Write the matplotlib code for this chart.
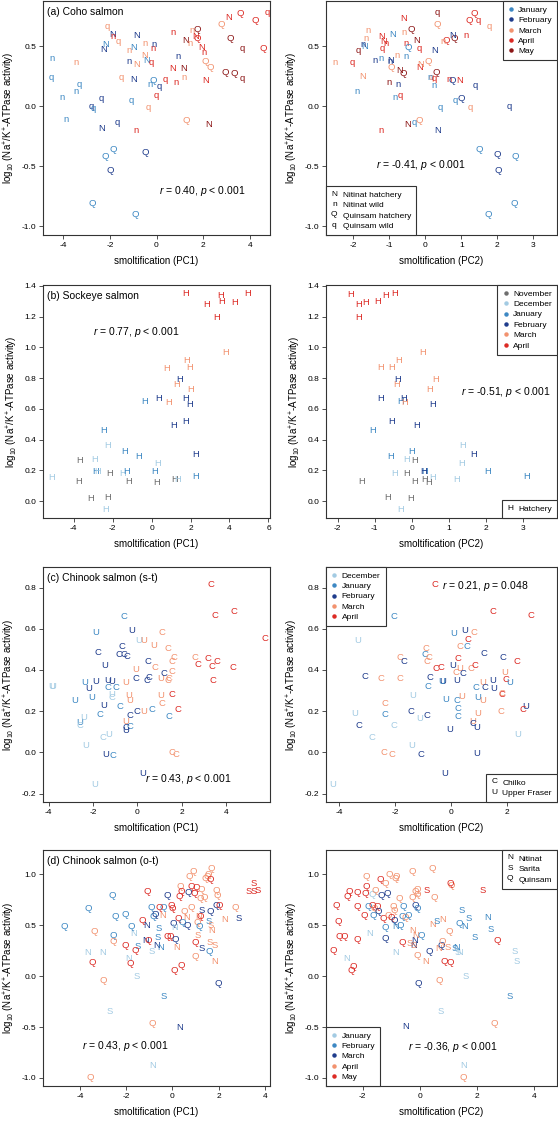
import matplotlib
matplotlib.use("Agg")
from matplotlib import pyplot as plt
from matplotlib.lines import Line2D
from matplotlib.text import Text
from matplotlib.legend_handler import HandlerBase
from matplotlib.ticker import FormatStrFormatter, MultipleLocator

plt.rcParams['font.family'] = ['Liberation Sans', 'DejaVu Sans']
plt.rcParams['axes.unicode_minus'] = False
plt.rcParams['mathtext.fontset'] = 'custom'
plt.rcParams['mathtext.rm'] = 'Liberation Sans'
plt.rcParams['mathtext.it'] = 'Liberation Sans:italic'

# colours
GREY = '#6e6e6e'
LIGHT = '#a3cbe3'
MID = '#3d88c3'
DARK = '#1f3c8c'
SALMON = '#f2926f'
RED = '#dc2a24'
DARKRED = '#8c1616'

month_name = {'o': 'November', 'd': 'December', 'j': 'January', 'f': 'February',
              'm': 'March', 'a': 'April', 'y': 'May'}

# ---------------- (a) Coho salmon ----------------
a1_site = "nqnqnnnqqq NqNNNnqqqQ QQQQQnnNNN nqNNNqnnQn qqqnqnNnnN nQNnnNQQNn QQNNQNQQQq qQQQq".replace(" ", "")
a1_month = "jjmjjjjfjf fmfjfammfj jfjjfmfmjf mjfmjaafjj fmaaaaaafy mmymmaayaa mmaymayyyy yaaaa".replace(" ", "")
a1_x = [-4.49, -4.52, -3.44, -3.30, -3.44, -4.06, -3.87, -2.80, -2.70, -2.37,
        -2.37, -2.13, -2.27, -2.19, -1.89, -1.86, -1.66, -1.53, -1.67, -1.87,
        -2.20, -1.99, -2.77, -0.90, -0.49, -1.20, -1.20, -0.87, -0.99, -0.87,
        -0.51, -1.09, -0.97, -0.49, -0.41, -0.23, -0.16, -0.10, -0.13, -0.27,
        0.13, -0.34, 0.01, -0.89, 0.37, 0.69, 0.70, 0.84, 0.94, 1.16,
        1.19, 1.26, 1.26, 1.51, 1.45, 1.66, 1.73, 1.76, 1.94, 2.04,
        2.09, 2.30, 2.11, 2.24, 2.76, 3.10, 3.16, 2.94, 3.34, 3.69,
        3.70, 3.59, 4.23, 4.60, 4.77]
a1_y = [0.40, 0.24, 0.36, 0.18, 0.12, 0.07, -0.11, 0.00, -0.02, 0.06,
        -0.19, 0.66, 0.47, 0.51, 0.60, 0.58, 0.54, 0.24, -0.14, -0.36,
        -0.42, -0.54, -0.81, -0.90, -0.39, 0.46, 0.37, 0.35, 0.49, 0.59,
        0.52, 0.05, 0.22, 0.42, 0.38, 0.36, 0.48, 0.51, 0.21, 0.18,
        0.16, -0.01, 0.09, -0.20, 0.22, 0.61, 0.31, 0.20, 0.41, 0.31,
        0.24, -0.12, 0.55, 0.63, 0.52, 0.58, 0.56, 0.64, 0.49, 0.45,
        0.37, 0.32, 0.21, -0.15, 0.68, 0.74, 0.56, 0.28, 0.27, 0.48,
        0.23, 0.77, 0.71, 0.48, 0.78]

a2_site = "nqnNnnNnqn nNNqnNNnQn nqnNnQnQnN QnNqNNQNqQ nqnnqNQqQQ nQNqNnNQqQ nQQqqqqQqQ QQQQQ".replace(" ", "")
a2_month = "majmmmjfyf jaaaajffmy fajamyajmy yjyaammyjm amjjafyyma myfjfaafjf aaaafmmafj ffjjj".replace(" ", "")
a2_x = [-2.51, -2.02, -1.91, -1.73, -1.60, -1.65, -1.68, -1.74, -1.86, -1.41,
        -1.22, -1.22, -1.16, -1.19, -1.08, -0.91, -0.96, -0.98, -0.96, -1.00,
        -0.77, -0.71, -0.84, -0.60, -0.60, -0.38, -0.54, -0.48, -0.79, -0.70,
        -0.62, -0.54, -0.25, -0.18, -0.17, -0.12, 0.07, -0.49, -0.31, -0.17,
        -1.22, 0.16, 0.13, 0.23, 0.25, 0.27, 0.30, 0.32, 0.32, 0.58,
        0.48, 0.81, 0.76, 0.42, 0.34, 0.67, 0.95, 0.76, 0.84, 1.01,
        1.13, 1.21, 1.36, 1.46, 1.40, 1.24, 1.78, 2.24, 2.34, 1.50,
        1.99, 2.03, 2.50, 2.46, 1.75]
a2_y = [0.36, 0.36, 0.12, 0.25, 0.63, 0.56, 0.50, 0.51, 0.46, 0.38,
        0.40, 0.58, 0.54, 0.48, 0.52, 0.60, 0.38, 0.37, 0.32, 0.20,
        0.18, 0.09, 0.07, 0.73, 0.61, 0.64, 0.52, 0.49, 0.42, 0.30,
        0.27, 0.41, 0.55, 0.48, 0.32, 0.35, 0.37, -0.15, -0.14, -0.12,
        -0.20, 0.24, 0.24, 0.17, 0.23, 0.46, 0.28, 0.78, 0.68, 0.55,
        0.54, 0.56, 0.59, -0.01, -0.20, 0.22, 0.21, 0.21, 0.05, 0.06,
        0.59, 0.71, 0.77, 0.71, 0.17, -0.01, 0.66, 0.48, 0.00, -0.36,
        -0.40, -0.54, -0.42, -0.81, -0.90]

# ---------------- (b) Sockeye salmon ----------------
b1_month = "dooodjdjdo odjdjojjfd jommmffodm mffmffjaaa maaaa".replace(" ", "")
b1_site = "H" * len(b1_month)
b1_x = [-5.15, -3.74, -3.71, -3.15, -2.92, -2.85, -2.78, -2.46, -2.26, -2.17,
        -2.26, -2.36, -1.40, -1.47, -1.26, -1.20, -0.65, -0.38, 0.38, 0.31,
        0.14, 0.27, 0.75, 0.89, 1.30, 1.42, 1.13, 1.18, 1.33, 1.78,
        1.93, 1.76, 1.95, 2.03, 1.73, 2.26, 2.26, 1.73, 2.84, 3.35,
        3.78, 3.56, 3.61, 4.29, 4.92]
b1_y = [0.154, 0.128, 0.262, 0.020, 0.270, 0.190, 0.195, 0.457, 0.360, 0.180,
        0.026, -0.056, 0.320, 0.178, 0.190, 0.128, 0.290, 0.648, 0.665, 0.247,
        0.193, 0.124, 0.865, 0.644, 0.756, 0.790, 0.492, 0.143, 0.141, 0.914,
        0.869, 0.665, 0.630, 0.724, 0.518, 0.300, 0.160, 1.348, 1.276, 1.194,
        0.969, 1.337, 1.298, 1.294, 1.352]

b2_month = "aaaaaaammm mmfmmfjfmf ffjjjdoddf jjdojoodod ooodf".replace(" ", "")
b2_site = "H" * len(b2_month)
b2_x = [-1.64, -1.43, -1.43, -1.23, -0.92, -0.70, -0.47, -0.83, -0.55, -0.35,
        0.28, -0.42, -0.37, 0.63, 0.48, -0.85, -0.31, -0.22, -0.20, 0.55,
        -0.53, 0.12, -1.05, -0.58, 0.00, -0.13, 0.07, 1.36, 1.34, 1.67,
        2.04, 3.08, -0.46, -0.14, 0.34, 0.34, 0.07, 0.56, 0.46, 1.20,
        -1.36, -0.64, -0.04, -0.31, 0.33]
b2_y = [1.345, 1.276, 1.194, 1.294, 1.298, 1.335, 1.352, 0.869, 0.869, 0.914,
        0.969, 0.756, 0.790, 0.790, 0.724, 0.665, 0.648, 0.665, 0.644, 0.630,
        0.518, 0.492, 0.457, 0.290, 0.320, 0.270, 0.262, 0.360, 0.247, 0.300,
        0.193, 0.160, 0.178, 0.178, 0.193, 0.143, 0.128, 0.154, 0.124, 0.141,
        0.128, 0.026, 0.020, -0.056, 0.190]

# ---------------- (c) Chinook salmon (s-t) ----------------
c1_site = "UUUUCUUUUU UUUCUUUUCC CUUCCUCCCC CCCUUUUUCC UCCCUUUUUC CCUCCCCUCU CCCCCCCCCC CCCCCCCCCCCC".replace(" ", "")
c1_month = "ddjjdddjfj fjdfffffjj ddddjfjfff fjjfmmmmfj ffffdmmmff ffmmjmmmfm mmmmmmajmm amaaaaaaaaaa".replace(" ", "")
c1_x = [-3.88, -3.80, -2.84, -2.62, -2.60, -2.43, -2.35, -2.38, -2.20, -2.05,
        -1.89, -1.87, -1.93, -1.77, -1.47, -1.50, -1.35, -1.17, -1.32, -1.68,
        -1.57, -1.29, -1.14, -1.17, -0.96, -1.41, -1.11, -0.84, -0.70, -0.63,
        -0.48, -0.78, -0.60, -0.25, -0.51, -0.40, -0.36, -0.55, -0.36, -0.36,
        -0.51, -0.52, -0.06, -0.03, 0.06, 0.30, -0.10, 0.30, 0.24, 0.49,
        0.42, 0.52, 0.75, 0.79, 0.67, 1.12, 1.39, 1.06, 1.21, 1.03,
        1.11, 1.39, 1.40, 1.56, 1.62, 1.56, 1.54, 1.41, 1.56, 1.71,
        1.84, 2.59, 2.71, 3.19, 3.35, 3.58, 3.41, 3.32, 3.50, 4.36,
        4.31, 5.73]
c1_y = [0.320, 0.320, 0.252, 0.144, 0.130, 0.167, 0.034, 0.338, 0.310, 0.265,
        0.345, 0.580, -0.157, 0.487, 0.422, 0.228, 0.350, 0.345, 0.317, 0.183,
        0.074, 0.086, 0.280, 0.265, 0.317, -0.010, -0.015, 0.474, 0.516, 0.474,
        0.466, 0.225, 0.662, 0.592, 0.338, 0.277, 0.252, 0.150, 0.180, 0.128,
        0.107, 0.120, 0.361, 0.200, 0.544, 0.544, 0.403, 0.196, -0.105, 0.442,
        0.350, 0.365, 0.520, 0.414, 0.207, 0.580, 0.503, 0.357, 0.385, 0.277,
        0.239, 0.350, 0.358, 0.442, 0.463, 0.393, 0.282, 0.176, -0.003, -0.011,
        0.209, 0.463, 0.427, 0.455, 0.417, 0.443, 0.351, 0.817, 0.665, 0.684,
        0.411, 0.552]

c2_site = "UUCUCCCCCC CCCCCCUCUU CCCCCCCCCC CUUUUUUUCU CCUCCCUCUC CCUCCCCUUU UUUCCUUCCC CUCCUCUUCC".replace(" ", "")
c2_month = "ddfdfdmmjm mjdmmfdfdd ffmjmmjfaa afjfjfjfmm amfjjjmffj ammfmajjff mmmffffafa mmmajadfaa".replace(" ", "")
c2_x = [-4.24, -3.44, -3.29, -3.35, -3.08, -2.84, -2.51, -2.36, -2.36, -2.39,
        -2.12, -2.03, -2.03, -1.81, -1.84, -1.69, -1.36, -1.42, -1.42, -1.12,
        -1.06, -0.85, -0.88, -0.94, -0.79, -0.85, -0.83, -0.76, -0.58, -0.55,
        -0.34, -0.28, -0.34, -0.22, -0.17, -0.05, 0.10, 0.05, 0.17, 0.32,
        0.25, 0.32, 0.20, 0.23, 0.25, 0.26, 0.38, 0.43, 0.50, 0.59,
        0.62, 0.71, 0.77, 0.81, 0.83, 0.87, 0.89, 0.95, 0.93, 0.93,
        0.95, 1.13, 1.15, 1.19, 1.21, 1.51, 1.55, 1.51, 1.86, 1.85,
        1.83, 1.92, 1.81, 1.96, 2.12, 2.36, 2.39, 2.67, 2.57, 2.87]
c2_y = [-0.157, 0.188, 0.131, 0.544, 0.366, 0.074, 0.358, 0.236, 0.183, -0.003,
        -0.011, 0.662, 0.131, 0.463, 0.358, 0.442, 0.277, 0.199, 0.034, 0.163,
        -0.010, 0.180, 0.506, 0.474, 0.463, 0.439, 0.320, 0.362, 0.817, 0.409,
        0.414, 0.345, 0.345, -0.105, 0.256, 0.110, 0.576, 0.422, 0.390, 0.406,
        0.455, 0.516, 0.350, 0.252, 0.212, 0.175, 0.273, 0.385, 0.592, 0.514,
        0.549, 0.409, 0.150, 0.142, 0.580, 0.422, 0.317, 0.264, 0.120, -0.006,
        0.188, 0.252, 0.341, 0.479, 0.317, 0.350, 0.312, 0.684, 0.463, 0.280,
        0.285, 0.390, 0.196, 0.353, 0.338, 0.443, 0.086, 0.223, 0.207, 0.665]

# ---------------- (d) Chinook salmon (o-t) ----------------
d1_site = "QQQQQQQQQQ NNSNQNQQSQ SQQQNNQSSS NNQQQQQQNS QQQQQQQNQQ NNNQQQQQQN QQQQQQQQQQ QNQSQSSQQQ QQQQQSQSQN NSSQQQQQNQ SSSSS".replace(" ", "")
d1_month = "ffffffaaya jjjjfjyyfy jyyammyffj mfffmfayaf ymyyymmjyy amjyyayfaa maamyyyaay aaymfmaaaa aaayaaffma aaamyaamaa myyyy".replace(" ", "")
d1_x = [-4.66, -3.62, -2.61, -2.54, -2.47, -2.04, -3.39, -2.57, -3.46, -3.00,
        -3.65, -3.03, -2.69, -1.68, -1.78, -1.90, -1.82, -2.04, -1.49, -1.61,
        -1.54, -1.32, -1.11, -3.53, -1.11, -1.15, -1.03, -0.60, -0.63, -0.89,
        -0.68, -0.53, -0.93, -0.82, -0.75, -0.42, -0.89, -0.56, -0.43, -0.36,
        -0.24, -0.24, -0.06, -0.03, -0.10, 0.11, 0.03, 0.11, 0.07, 0.37,
        0.19, 0.29, -0.85, 0.27, 0.30, 0.33, 0.40, 0.43, 0.50, 0.62,
        0.65, 0.72, 0.88, 0.69, 0.79, 0.93, 1.02, 0.82, 1.05, 0.98,
        0.98, 1.15, 1.19, 1.26, 1.15, 1.26, 1.08, 1.22, 1.24, 1.36,
        1.41, 1.48, 1.55, 1.62, 1.67, 1.59, 1.59, 1.55, 1.65, 1.67,
        1.80, 1.65, 1.84, 1.88, 2.01, 1.91, 1.94, 1.98, 2.23, 2.69,
        2.87, 3.49, 3.28, 3.52, 3.70]
d1_y = [0.485, 0.666, 0.797, 0.397, 0.584, 0.607, 0.443, 0.338, 0.134, -0.046,
        0.230, 0.230, -0.351, 0.420, 0.492, 0.174, 0.125, 0.298, 0.295, 0.256,
        -0.007, 0.551, 0.836, -1.000, 0.502, 0.354, 0.348, 0.469, 0.380, 0.240,
        0.305, 0.282, 0.675, 0.584, 0.607, 0.675, -0.466, 0.672, 0.593, -0.203,
        0.387, 0.790, 0.698, 0.665, 0.387, 0.364, 0.518, 0.475, 0.052, 0.102,
        0.282, -0.502, -0.882, 0.567, 0.780, 0.879, 0.830, 0.528, 0.633, 0.574,
        0.495, 0.977, 1.026, 0.820, 0.879, 0.813, 0.869, 0.672, 0.525, 0.328,
        0.197, 0.590, 0.590, 0.649, 0.492, 0.272, 0.403, 0.764, 0.852, 0.770,
        0.961, 0.977, 1.000, 0.951, 1.059, 0.331, 0.239, 0.534, 0.633, 0.452,
        0.148, 0.502, 0.305, 0.698, 0.698, 0.846, 0.797, -0.072, 0.561, 0.672,
        0.567, 0.911, 0.830, 0.830, 0.840]

d2_site = "QQQQQQQNQQ QQQQQQQQQN QQQQQQQQQQ QQQQQQQQNQ QQNQQQQQQN QSQQNQQQQN NNSQQQQNSQ QQNSNNQQQQ QQSSSSNQQN QNSSSSNQSN SQQSSS".replace(" ", "")
d2_month = "yyyyyyyjyy yyyayyyjfj yayaymmfya mafmaaayja amffayffam faaaaaamfm maaamafaym aaafaamayy aajafjjayf fffffjjayf fyafjj".replace(" ", "")
d2_x = [-3.04, -2.94, -2.85, -2.82, -2.65, -2.35, -2.39, -2.56, -2.56, -2.47,
        -2.21, -2.18, -2.21, -1.88, -1.88, -1.92, -1.94, -1.68, -1.80, -1.76,
        -1.68, -1.60, -1.48, -1.56, -1.39, -1.36, -1.47, -1.62, -1.29, -1.21,
        -1.13, -1.06, -1.21, -1.21, -1.09, -0.94, -0.90, -1.00, -0.86, -0.86,
        -0.82, -0.88, -0.86, -0.70, -0.71, -0.62, -0.59, -0.61, -0.50, -0.51,
        -0.41, -0.36, -0.27, -0.27, -0.24, -0.15, -0.09, -0.15, -0.09, -0.21,
        -0.18, -0.15, -0.21, -0.09, -0.06, -0.09, 0.05, 0.21, 0.26, 0.32,
        0.44, 0.52, 0.44, 0.59, 0.82, 0.67, 0.76, 0.79, 0.87, 1.06,
        0.67, 1.02, 0.75, 0.99, 1.24, 1.35, 1.41, 1.11, 1.08, 1.30,
        1.38, 1.58, 1.47, 1.73, 1.93, 1.61, 1.55, 1.53, 2.20, 2.38,
        2.49, 2.71, 2.61, 3.16, 3.34, 3.41]
d2_y = [0.256, 0.698, 0.541, 0.387, 0.387, 0.092, 0.052, 0.174, 0.780, 0.830,
        0.823, 0.682, 0.364, 0.977, 0.879, 0.813, 0.593, 0.803, 0.682, 0.420,
        0.698, 0.666, 0.682, 0.846, 0.951, 0.790, 0.633, 0.600, 0.567, 0.911,
        0.813, 1.000, 0.479, 0.370, 0.600, 0.682, 0.650, 0.580, 0.230, 0.961,
        0.980, 0.551, 0.492, 0.500, 0.764, 0.331, 0.682, 0.590, 0.580, -0.498,
        0.600, 0.321, 1.033, 0.770, 0.452, 0.830, 0.800, 0.698, 0.666, 0.305,
        0.354, 0.400, 0.305, 0.852, -0.072, 0.200, 0.397, 0.141, 0.839, 0.239,
        1.059, 0.770, 0.512, 0.534, 0.561, 0.272, 0.298, 0.344, 0.141, 0.134,
        -0.039, 0.443, -0.351, 0.279, 0.272, 0.233, 0.233, 0.895, 0.911, 0.280,
        0.518, 0.485, 0.649, 0.567, 0.380, 0.000, -0.882, -1.000, 0.839, 0.574,
        0.462, 0.354, -0.466, -0.203, 0.239, 0.141]

pal_a = {'j': MID, 'f': DARK, 'm': SALMON, 'a': RED, 'y': DARKRED}
pal_b = {'o': GREY, 'd': LIGHT, 'j': MID, 'f': DARK, 'm': SALMON, 'a': RED}
pal_c = {'d': LIGHT, 'j': MID, 'f': DARK, 'm': SALMON, 'a': RED}
pal_d = {'j': LIGHT, 'f': MID, 'm': DARK, 'a': SALMON, 'y': RED}

YLAB = r'log$_{10}$ (Na$^{+}$/K$^{+}$-ATPase activity)'

fig = plt.figure(figsize=(5.58, 11.25), dpi=100)

left = (43 / 558, 227 / 558)
right = (326 / 558, 231 / 558)
rows = [(1, 235), (285, 518), (567, 802), (850, 1086)]


def make_ax(col, row):
    top, bot = rows[row]
    return fig.add_axes([col[0], 1 - bot / 1125, col[1], (bot - top) / 1125])


def style(ax, xlim, ylim, xstep, ystep, pc):
    ax.set_xlim(*xlim)
    ax.set_ylim(*ylim)
    ax.xaxis.set_major_locator(MultipleLocator(xstep))
    ax.yaxis.set_major_locator(MultipleLocator(ystep))
    ax.yaxis.set_major_formatter(FormatStrFormatter('%.1f'))
    for s in ax.spines.values():
        s.set_linewidth(0.8)
        s.set_color('#333333')
    ax.tick_params(direction='out', length=3, width=0.6, labelsize=6, pad=2,
                   color='#333333')
    ax.set_xlabel('smoltification (%s)' % pc, fontsize=7, labelpad=5)
    ax.set_ylabel(YLAB, fontsize=7, labelpad=3)


def draw(ax, xs, ys, site, month, pal):
    if not (len(xs) == len(ys) == len(site) == len(month)):
        raise ValueError((len(xs), len(ys), len(site), len(month)))
    for xi, yi, s, m in zip(xs, ys, site, month):
        ax.text(xi, yi, s, color=pal[m], ha='center', va='center', fontsize=6.8)


def stat(ax, x, y, txt):
    ax.text(x, y, txt, transform=ax.transAxes, ha='center', va='center', fontsize=7.5)


def title(ax, txt):
    ax.text(0.018, 0.975, txt, transform=ax.transAxes, ha='left', va='top', fontsize=7.5)


class LetterHandler(HandlerBase):
    # legend key drawn as a plain letter, like R's pch = "N"
    def __init__(self, letter):
        super().__init__()
        self.letter = letter

    def create_artists(self, legend, orig_handle, xdescent, ydescent, width,
                       height, fontsize, trans):
        t = Text(-xdescent + width / 2, -ydescent + height / 2, self.letter,
                 ha='center', va='center', fontsize=fontsize, color='black',
                 transform=trans)
        return [t]


def month_legend(ax, pal, loc):
    keys = list(pal.keys())
    h = [Line2D([], [], ls='none', marker='o', ms=2.2, color=pal[k]) for k in keys]
    leg = ax.legend(h, [month_name[k] for k in keys], loc=loc, borderaxespad=0,
                    fancybox=False, edgecolor='#333333', framealpha=1, fontsize=6,
                    handlelength=0.8, handletextpad=0.5, labelspacing=0.3,
                    borderpad=0.6)
    leg.get_frame().set_linewidth(0.8)
    return leg


def site_legend(ax, letters, labels, loc):
    h = [Line2D([], [], ls='none') for L in letters]
    hmap = {hh: LetterHandler(L) for hh, L in zip(h, letters)}
    leg = ax.legend(h, labels, loc=loc, borderaxespad=0, fancybox=False,
                    edgecolor='#333333', framealpha=1, fontsize=6,
                    handlelength=0.8, handletextpad=0.6, labelspacing=0.3,
                    borderpad=0.6, handler_map=hmap)
    leg.get_frame().set_linewidth(0.8)
    return leg


# (a)
ax = make_ax(left, 0)
draw(ax, a1_x, a1_y, a1_site, a1_month, pal_a)
style(ax, (-4.87, 4.87), (-1.075, 0.876), 2, 0.5, 'PC1')
title(ax, '(a) Coho salmon')
stat(ax, 0.70, 0.19, r'$r$ = 0.40, $p$ < 0.001')

ax = make_ax(right, 0)
draw(ax, a2_x, a2_y, a2_site, a2_month, pal_a)
style(ax, (-2.76, 3.66), (-1.075, 0.876), 1, 0.5, 'PC2')
stat(ax, 0.41, 0.30, r'$r$ = -0.41, $p$ < 0.001')
l1 = month_legend(ax, pal_a, 'upper right')
ax.add_artist(l1)
site_legend(ax, 'NnQq', ['Nitinat hatchery', 'Nitinat wild', 'Quinsam hatchery',
                          'Quinsam wild'], 'lower left')

# (b)
ax = make_ax(left, 1)
draw(ax, b1_x, b1_y, b1_site, b1_month, pal_b)
style(ax, (-5.57, 6.08), (-0.11, 1.406), 2, 0.2, 'PC1')
title(ax, '(b) Sockeye salmon')
stat(ax, 0.41, 0.80, r'$r$ = 0.77, $p$ < 0.001')

ax = make_ax(right, 1)
draw(ax, b2_x, b2_y, b2_site, b2_month, pal_b)
style(ax, (-2.31, 3.91), (-0.11, 1.406), 1, 0.2, 'PC2')
stat(ax, 0.78, 0.54, r'$r$ = -0.51, $p$ < 0.001')
l1 = month_legend(ax, pal_b, 'upper right')
ax.add_artist(l1)
site_legend(ax, 'H', ['Hatchery'], 'lower right')

# (c)
ax = make_ax(left, 2)
draw(ax, c1_x, c1_y, c1_site, c1_month, pal_c)
style(ax, (-4.25, 5.96), (-0.241, 0.90), 2, 0.2, 'PC1')
title(ax, '(c) Chinook salmon (s-t)')
stat(ax, 0.64, 0.10, r'$r$ = 0.43, $p$ < 0.001')

ax = make_ax(right, 2)
draw(ax, c2_x, c2_y, c2_site, c2_month, pal_c)
style(ax, (-4.48, 3.81), (-0.241, 0.90), 2, 0.2, 'PC2')
stat(ax, 0.69, 0.92, r'$r$ = 0.21, $p$ = 0.048')
l1 = month_legend(ax, pal_c, 'upper left')
ax.add_artist(l1)
site_legend(ax, 'CU', ['Chilko', 'Upper Fraser'], 'lower right')

# (d)
ax = make_ax(left, 3)
draw(ax, d1_x, d1_y, d1_site, d1_month, pal_d)
style(ax, (-5.59, 4.21), (-1.079, 1.24), 2, 0.5, 'PC1')
title(ax, '(d) Chinook salmon (o-t)')
stat(ax, 0.36, 0.17, r'$r$ = 0.43, $p$ < 0.001')

ax = make_ax(right, 3)
draw(ax, d2_x, d2_y, d2_site, d2_month, pal_d)
style(ax, (-3.29, 4.82), (-1.079, 1.24), 2, 0.5, 'PC2')
stat(ax, 0.55, 0.165, r'$r$ = -0.36, $p$ < 0.001')
l1 = site_legend(ax, 'NSQ', ['Nitinat', 'Sarita', 'Quinsam'], 'upper right')
ax.add_artist(l1)
month_legend(ax, pal_d, 'lower left')

fig.savefig('out.png', dpi=100)
